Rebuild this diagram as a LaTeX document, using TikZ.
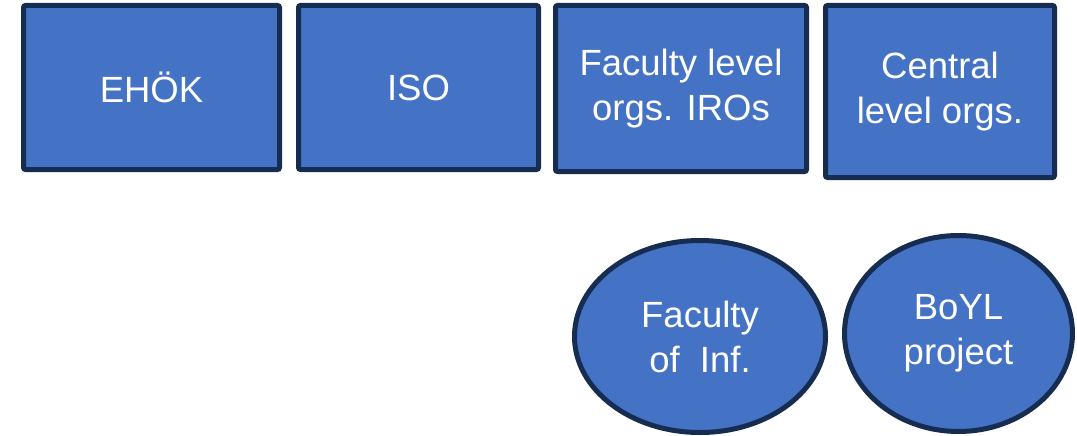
\documentclass[tikz,border=0pt]{standalone}
\usepackage{fontspec}
\setmainfont{Liberation Sans}
\usepackage{tikz}
\usetikzlibrary{shapes.geometric}

\definecolor{boxblue}{HTML}{4472C4}
\definecolor{boxline}{HTML}{172C51}

\tikzset{
    orgbox/.style={draw=boxline, fill=boxblue, line width=5pt, rounded corners=2pt,
        inner sep=0pt, text=white, align=center,
        font=\fontsize{36.5}{45}\selectfont},
    orgoval/.style={orgbox, ellipse, rounded corners=0pt}
}

\begin{document}
\begin{tikzpicture}[x=1pt, y=-1pt]
        % 固定画布大小
        \useasboundingbox (0,0) rectangle (1077,436);

        % 上排:四个组织方框
        \node[orgbox, minimum width=256pt, minimum height=164pt] (ehok) at (151.5,87.5) {EHÖK};
        \node[orgbox, minimum width=240pt, minimum height=164pt] (iso) at (418.5,87.5) {ISO};
        \node[orgbox, minimum width=251pt, minimum height=166pt] (faclevel) at (681,88.5) {Faculty level\\orgs. IROs};
        \node[orgbox, minimum width=229pt, minimum height=172pt] (central) at (940,91.5) {Central\\level orgs.};

        % 下排:两个椭圆
        \node[orgoval, minimum width=251pt, minimum height=192pt] (facinf) at (700,336.5) {Faculty\\of\ \ Inf.};
        \node[orgoval, minimum width=228pt, minimum height=196pt] (boyl) at (958.5,333.5) {BoYL\\project};
    \end{tikzpicture}
\end{document}
